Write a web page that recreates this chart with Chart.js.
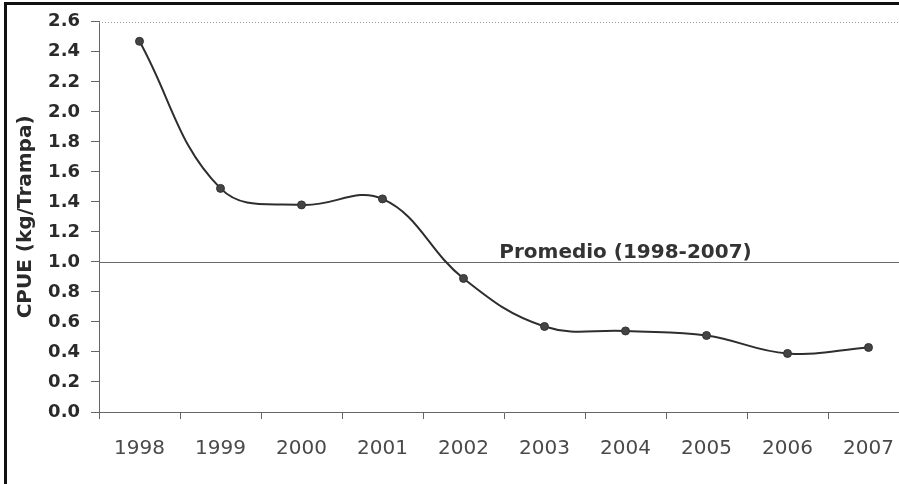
<!DOCTYPE html>
<html>
<head>
<meta charset="utf-8">
<script src="https://cdn.jsdelivr.net/npm/chart.js@4/dist/chart.umd.min.js"></script>
<style>
  html, body { margin: 0; padding: 0; background: #fff; overflow: hidden; width: 899px; height: 484px; }
  #frame { position: absolute; left: 4px; top: 2px; width: 900px; height: 490px; border-left: 3px solid #111; border-top: 3px solid #111; }
  #wrap { position: absolute; left: 0; top: 0; width: 915px; height: 484px; }
</style>
</head>
<body>
<div id="frame"></div>
<div id="wrap"><canvas id="c" width="915" height="484"></canvas></div>
<script>
// ---- data ----
const years = ['1998', '1999', '2000', '2001', '2002', '2003', '2004', '2005', '2006', '2007'];
const cpue = [2.47, 1.49, 1.38, 1.42, 0.89, 0.57, 0.54, 0.51, 0.39, 0.43];
const avgValue = 1.0;
const avgLabel = 'Promedio (1998-2007)';
const avgLabelAt = '2004';
const yAxisTitle = 'CPUE (kg/Trampa)';
const yMin = 0, yMax = 2.6, yStep = 0.2;

const overlay = {
  id: 'overlay',
  beforeDatasetsDraw(chart) {
    const { ctx, chartArea: a, scales: { x, y } } = chart;
    ctx.save();
    // dotted top border
    ctx.strokeStyle = '#9a9a9a';
    ctx.lineWidth = 1;
    ctx.setLineDash([1, 2]);
    const yt = Math.round(y.getPixelForValue(yMax)) + 0.5;
    ctx.beginPath(); ctx.moveTo(a.left, yt); ctx.lineTo(a.right, yt); ctx.stroke();
    // average line
    ctx.setLineDash([]);
    ctx.strokeStyle = '#6a6a6a';
    const ya = Math.round(y.getPixelForValue(avgValue)) + 0.5;
    ctx.beginPath(); ctx.moveTo(a.left, ya); ctx.lineTo(a.right, ya); ctx.stroke();
    // label
    ctx.font = 'bold 20px "DejaVu Sans"';
    ctx.fillStyle = '#333';
    ctx.textAlign = 'center';
    ctx.textBaseline = 'alphabetic';
    ctx.fillText(avgLabel, x.getPixelForValue(years.indexOf(avgLabelAt)), ya - 5);
    ctx.restore();
  }
};

new Chart(document.getElementById('c'), {
  type: 'line',
  data: {
    labels: years,
    datasets: [{
      data: cpue,
      borderColor: '#2e2e2e',
      borderWidth: 2,
      tension: 0.4,
      pointRadius: 4,
      pointBackgroundColor: '#444',
      pointBorderColor: '#333',
      pointBorderWidth: 1,
      fill: false
    }]
  },
  options: {
    responsive: false,
    devicePixelRatio: 1,
    animation: false,
    layout: { padding: { top: 20, right: 6, bottom: 0, left: 0 } },
    plugins: { legend: { display: false }, tooltip: { enabled: false } },
    scales: {
      x: {
        offset: true,
        grid: { offset: true, drawOnChartArea: false, drawTicks: true, tickLength: 7, color: '#666' },
        border: { display: true, color: '#666', width: 1 },
        ticks: { color: '#4a4a4a', font: { family: 'DejaVu Sans', size: 20 }, padding: 18, maxRotation: 0, autoSkip: false },
        afterFit(scale) { scale.height = 72; }
      },
      y: {
        min: yMin, max: yMax,
        grid: { drawOnChartArea: false, drawTicks: true, tickLength: 8, color: '#666' },
        border: { display: true, color: '#666', width: 1 },
        ticks: {
          stepSize: yStep,
          color: '#2a2a2a',
          font: { family: 'DejaVu Sans', size: 18, weight: 'bold' },
          padding: 11,
          callback: v => Number(v).toFixed(1)
        },
        title: {
          display: true,
          text: yAxisTitle,
          color: '#2a2a2a',
          font: { family: 'DejaVu Sans', size: 20, weight: 'bold' },
          padding: { top: 14, bottom: 0 }
        },
        afterFit(scale) { scale.width = 99; }
      }
    }
  },
  plugins: [overlay]
});
</script>
</body>
</html>
